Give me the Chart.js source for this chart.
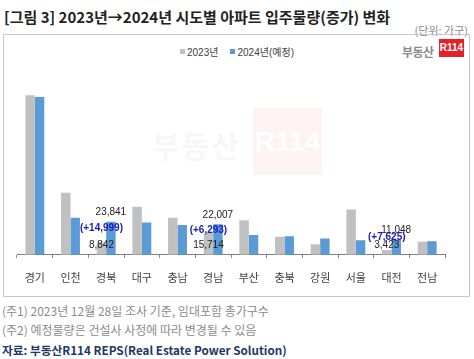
<!DOCTYPE html>
<html>
<head>
<meta charset="utf-8">
<script src="https://cdn.jsdelivr.net/npm/chart.js@4"></script>
<style>
  body { margin: 0; background: #fff; font-family: "Noto Sans CJK KR", "Noto Sans", sans-serif; }
  #wrap { position: relative; width: 474px; height: 359px; overflow: hidden; }
  .abs { position: absolute; white-space: nowrap; }
  #title { left: 4px; top: 6px; font-size: 15px; font-weight: bold; color: #222; }
  #unit { right: 6px; top: 22px; font-size: 11px; color: #8c8c8c; }
  #box { left: 3px; top: 34px; width: 465px; height: 261px; border: 1px solid #c8c8c8; }
  #legend { left: 180px; top: 44px; font-size: 10px; color: #404040; font-family: "Liberation Sans", "Noto Sans CJK KR", sans-serif; }
  #legend span.m { display: inline-block; width: 5px; height: 5px; margin-right: 2px; vertical-align: 2px; }
  #logo-t { left: 402px; top: 43px; font-size: 12px; font-weight: bold; color: #8a8a8a; letter-spacing: -0.5px; }
  #logo-r { left: 439px; top: 39px; width: 25px; height: 18px; background: #e52229; color: #fff; font-size: 10px; font-weight: bold; text-align: center; line-height: 18px; font-family: "Liberation Sans", sans-serif; }
  #wm-t { left: 152px; top: 122px; font-size: 30px; font-weight: bold; color: #f7f7f7; letter-spacing: 2px; }
  #wm-r { left: 253px; top: 108px; width: 69px; height: 67px; background: #fef3f3; color: #fff; font-size: 28px; font-weight: bold; text-align: center; line-height: 67px; font-family: "Liberation Sans", sans-serif; }
  #cv { position: absolute; left: 0; top: 0; }
  .note { left: 2px; font-size: 12px; color: #8c8c8c; }
  #src { left: 2px; top: 341px; font-size: 11.7px; font-weight: bold; color: #1f3864; }
</style>
</head>
<body>
<div id="wrap">
  <div class="abs" id="title">[그림 3] 2023년→2024년 시도별 아파트 입주물량(증가) 변화</div>
  <div class="abs" id="unit">(단위: 가구)</div>
  <div class="abs" id="box"></div>
  <div class="abs" id="wm-t">부동산</div>
  <div class="abs" id="wm-r">R114</div>
  <div class="abs" id="legend"></div>
  <div class="abs" id="logo-t">부동산</div>
  <div class="abs" id="logo-r">R114</div>
  <canvas id="cv" width="474" height="300"></canvas>
  <div class="abs note" style="top:302px">(주1) 2023년 12월 28일 조사 기준, 임대포함 총가구수</div>
  <div class="abs note" style="top:321px">(주2) 예정물량은 건설사 사정에 따라 변경될 수 있음</div>
  <div class="abs" id="src">자료: 부동산R114 REPS(Real Estate Power Solution)</div>
</div>
<script>
const $ = id => document.getElementById(id);

// 데이터
const categories = ["경기", "인천", "경북", "대구", "충남", "경남", "부산", "충북", "강원", "서울", "대전", "전남"];
const seriesNames = ["2023년", "2024년(예정)"];
const v2023 = [114800, 44600, 8842, 34600, 26600, 15714, 24900, 12900, 7600, 32600, 3423, 9300];
const v2024 = [113400, 26600, 23841, 23300, 21500, 22007, 14300, 13400, 11800, 10400, 11048, 9700];
const annotated = ["경북", "경남", "대전"];
const colors = ["#c0c0c0", "#5b9bd5"];

// 범례
$("legend").innerHTML = seriesNames.map((n, i) =>
  `<span class="m" style="background:${colors[i]}"></span>${n}`
).join('<span style="display:inline-block;width:12px"></span>');

const fmt = v => v.toLocaleString("en-US");

// 주석 라벨 (값, 증가분)
const annotPlugin = {
  id: "annot",
  afterDatasetsDraw(chart) {
    const ctx = chart.ctx;
    const base = chart.scales.y.getPixelForValue(0);
    ctx.save();
    ctx.textAlign = "center";
    ctx.textBaseline = "middle";
    annotated.forEach(name => {
      const i = categories.indexOf(name);
      const g = chart.getDatasetMeta(0).data[i];
      const b = chart.getDatasetMeta(1).data[i];
      const yTop = b.y - 9;
      const yBot = base - 10;
      ctx.font = "10px 'Liberation Sans', Arial, sans-serif";
      ctx.fillStyle = "#222";
      ctx.fillText(fmt(v2024[i]), b.x, yTop);
      ctx.fillText(fmt(v2023[i]), g.x, yBot);
      ctx.font = "bold 10px 'Liberation Sans', Arial, sans-serif";
      ctx.fillStyle = "#1a1ab8";
      ctx.fillText("(+" + fmt(v2024[i] - v2023[i]) + ")", g.x, (yTop + yBot) / 2);
    });
    ctx.restore();
  }
};

new Chart($("cv").getContext("2d"), {
  type: "bar",
  data: {
    labels: categories,
    datasets: [
      { label: seriesNames[0], data: v2023, backgroundColor: colors[0] },
      { label: seriesNames[1], data: v2024, backgroundColor: colors[1] }
    ]
  },
  options: {
    responsive: false,
    devicePixelRatio: 1,
    animation: false,
    layout: { padding: { left: 17, right: 29, top: 74, bottom: 3 } },
    datasets: { bar: { categoryPercentage: 0.53, barPercentage: 1.0 } },
    plugins: { legend: { display: false }, tooltip: { enabled: false } },
    scales: {
      x: {
        grid: { offset: true, drawOnChartArea: false, drawTicks: true, tickLength: 3, color: "#808080" },
        border: { color: "#808080" },
        ticks: { color: "#404040", padding: 13, font: { family: "'Noto Sans CJK KR'", size: 11 } }
      },
      y: { display: false, min: 0, max: 130000 }
    }
  },
  plugins: [annotPlugin]
});
</script>
</body>
</html>
